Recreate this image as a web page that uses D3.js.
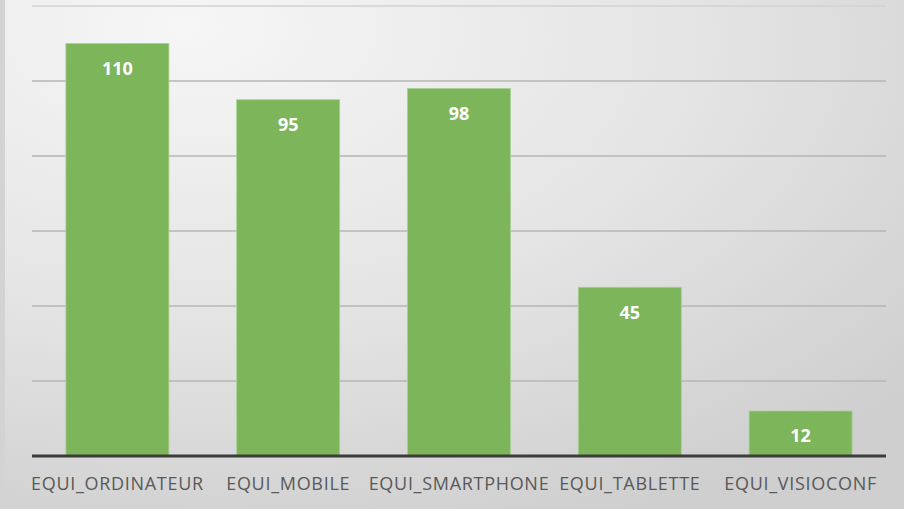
<!DOCTYPE html>
<html><head><meta charset="utf-8">
<script src="https://cdn.jsdelivr.net/npm/d3@7"></script>
<style>html,body{margin:0;padding:0;overflow:hidden;background:#e0e0e0}</style>
</head><body>
<svg id="c" width="904" height="509"></svg>
<script>
const categories = ["EQUI_ORDINATEUR","EQUI_MOBILE","EQUI_SMARTPHONE","EQUI_TABLETTE","EQUI_VISIOCONF"];
const values = [110, 95, 98, 45, 12];
const yTicks = [0, 20, 40, 60, 80, 100, 120];

const W = 904, H = 509;
const svg = d3.select("#c");
const defs = svg.append("defs");
const g1 = defs.append("radialGradient").attr("id","bg")
  .attr("cx","0.25").attr("cy","0.1").attr("r","1.0").attr("fx","0.2").attr("fy","0.05");
g1.append("stop").attr("offset","0").attr("stop-color","#f6f6f6");
g1.append("stop").attr("offset","0.55").attr("stop-color","#e4e4e4");
g1.append("stop").attr("offset","1").attr("stop-color","#cfcfcf");
svg.append("rect").attr("width",W).attr("height",H).attr("fill","url(#bg)");
svg.append("rect").attr("x",0).attr("y",0).attr("width",5).attr("height",H).attr("fill","#d3d3d3");

const x = d3.scaleBand().domain(categories).range([32, 886]).paddingInner(0.397).paddingOuter(0.1985);
const y = d3.scaleLinear().domain([0, 120]).range([456, 6]);

// gridlines
svg.append("g").selectAll("line").data(yTicks.filter(t => t > 0)).join("line")
  .attr("x1", 32).attr("x2", 886)
  .attr("y1", d => y(d)).attr("y2", d => y(d))
  .attr("stroke", d => d === 120 ? "#d2d2d2" : "#b6b6b6").attr("stroke-width", 1.6);

// bars
svg.append("g").selectAll("rect").data(values).join("rect")
  .attr("x", (d,i) => x(categories[i]))
  .attr("y", d => y(d))
  .attr("width", x.bandwidth())
  .attr("height", d => y(0) - y(d))
  .attr("fill", "#7db55b")
  .attr("stroke", "#a9cf94").attr("stroke-width", 0.8);

// baseline axis
const xAxis = d3.axisBottom(x).tickSize(0).tickPadding(21);
const ax = svg.append("g").attr("transform", `translate(0,${y(0)})`).call(xAxis);
ax.select(".domain").attr("stroke", "#3c3c3c").attr("stroke-width", 3).attr("d", "M32,0H886");
ax.selectAll("text").attr("fill", "#595959")
  .style("font-family", "'Open Sans', 'DejaVu Sans', sans-serif").style("font-size", "18px")
  .style("letter-spacing", "0.7px");

// value labels
svg.append("g").selectAll("text").data(values).join("text")
  .attr("x", (d,i) => x(categories[i]) + x.bandwidth()/2)
  .attr("y", d => y(d) + 25)
  .attr("dy", "0.36em")
  .attr("text-anchor", "middle")
  .attr("fill", "#ffffff")
  .style("font-family", "'Open Sans', 'DejaVu Sans', sans-serif")
  .style("font-weight", "bold").style("font-size", "18px")
  .text(d => d);
</script>
</body></html>
